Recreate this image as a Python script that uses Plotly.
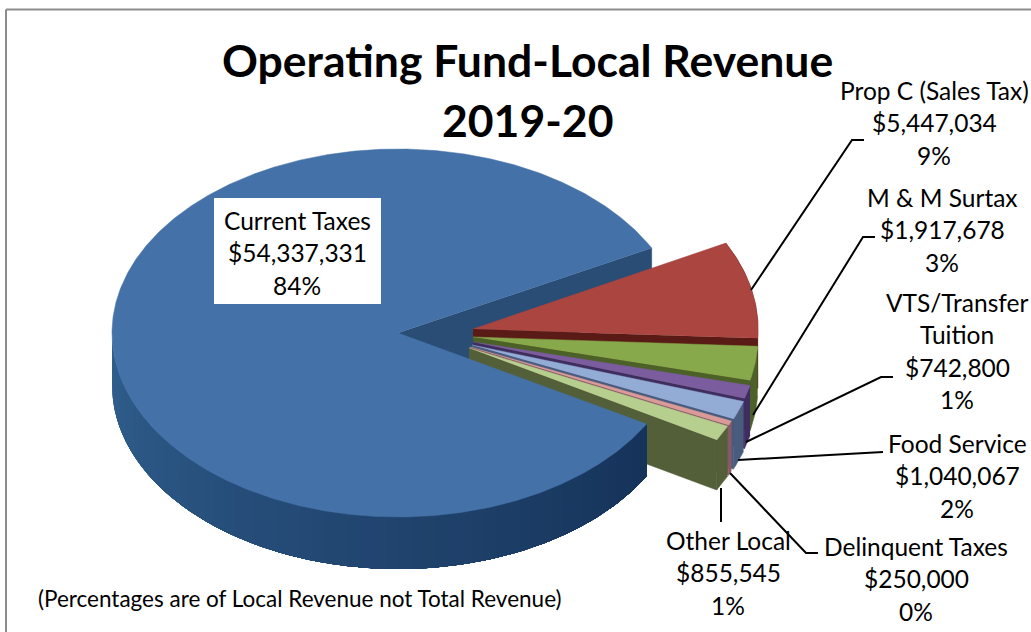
import numpy as np
import plotly.graph_objects as go

# Revenue by source, in dollars, in the order the slices run clockwise
categories = ["Current Taxes", "Prop C (Sales Tax)", "M & M Surtax", "VTS/Transfer Tuition",
              "Food Service", "Delinquent Taxes", "Other Local"]
revenue = [54337331, 5447034, 1917678, 742800, 1040067, 250000, 855545]
percent_labels = ["84%", "9%", "3%", "1%", "2%", "0%", "1%"]
name_lines = [["Current Taxes"], ["Prop C (Sales Tax)"], ["M & M Surtax"], ["VTS/Transfer", "Tuition"],
              ["Food Service"], ["Delinquent Taxes"], ["Other Local"]]

# Slice styling: top face colour and side wall colour
face_colors = ["#4472A8", "#AA4540", "#87A94B", "#7A5C9F", "#92ACD6", "#D99A98", "#B6CF8F"]
wall_colors = ["#2A4D76", "#5A1A15", "#4C6127", "#3E2D5E", "#4A5C7E", "#8B5A62", "#525F38"]

# Projected pie geometry in page pixels
RX, RY, DEPTH = 285, 186, 50
MAIN_RX, MAIN_RY, MAIN_DEPTH = 286, 184, 52
START_ANGLE = 27.5
apexes = [(398, 333), (473, 329), (473, 337), (473, 342), (472, 345), (470, 347), (469, 348)]

label_x = [297, 934, 942, 957, 957, 916, 728]
label_y = [220, 90, 197, 302, 443, 546, 540]
LINE_STEP = 32.5
FONT = "Lato, 'Open Sans', sans-serif"

leaders = [
    ([751, 852, 864], [290, 140, 140]),
    ([753, 863, 875], [415, 237, 237]),
    ([746, 881, 893], [442, 377, 377]),
    ([738, 883], [460, 452]),
    ([730, 806, 818], [473, 553, 553]),
    ([721, 721], [488, 522]),
]

sweeps = np.array(revenue, dtype=float) / sum(revenue) * 360


def rim(apex, t_from, t_to, step=1.0, rx=RX, ry=RY):
    n = max(int(abs(t_to - t_from) / step), 1) + 1
    t = np.radians(np.linspace(t_from, t_to, n))
    return apex[0] + rx * np.cos(t), apex[1] - ry * np.sin(t)


def blend(c1, c2, f):
    a = [int(c1[i:i + 2], 16) for i in (1, 3, 5)]
    b = [int(c2[i:i + 2], 16) for i in (1, 3, 5)]
    return "rgb(%d,%d,%d)" % tuple(round(p + (q - p) * f) for p, q in zip(a, b))


fig = go.Figure()


def polygon(x, y, color, width=0.5):
    fig.add_trace(go.Scatter(x=list(x), y=list(y), mode="lines", fill="toself", fillcolor=color,
                             line=dict(color=color, width=width), hoverinfo="skip", showlegend=False))


def wall(apex, t_from, t_to, color, width=0.5, rx=RX, ry=RY, depth=DEPTH):
    x, y = rim(apex, t_from, t_to, 1.0, rx, ry)
    polygon(np.r_[x, x[::-1]], np.r_[y, y[::-1] + depth], color, width)


def cut_wall(apex, t, color, rx=RX, ry=RY, depth=DEPTH):
    x, y = rim(apex, t, t, 1.0, rx, ry)
    x, y = x[0], y[0]
    polygon([apex[0], x, x, apex[0]], [apex[1], y, y + depth, apex[1] + depth], color)


# The large slice's far cut face sits behind the exploded slices
cut_wall(apexes[0], START_ANGLE, wall_colors[0], MAIN_RX, MAIN_RY, MAIN_DEPTH + 8)

# Exploded slices, far to near, each overlapping the one before
angle = START_ANGLE
for i in range(1, len(revenue)):
    end = angle - sweeps[i]
    wall(apexes[i], angle, end, wall_colors[i])
    cut_wall(apexes[i], end, wall_colors[i])
    x, y = rim(apexes[i], angle, end, 0.5)
    polygon(np.r_[apexes[i][0], x], np.r_[apexes[i][1], y], face_colors[i])
    angle = end

# The large slice: outer wall shaded in overlapping steps so no seams show, then its top face
main_end = angle
wall_stop = 360 + main_end
wall_stops = np.linspace(180.0, wall_stop, 61)
for k in range(len(wall_stops) - 1):
    f = k / (len(wall_stops) - 2)
    wall(apexes[0], wall_stops[k], wall_stop, blend("#31608F", "#16335A", f ** 0.9), 0,
         MAIN_RX, MAIN_RY, MAIN_DEPTH)
x, y = rim(apexes[0], main_end, main_end - sweeps[0], 0.5, MAIN_RX, MAIN_RY)
polygon(np.r_[apexes[0][0], x], np.r_[apexes[0][1], y], face_colors[0])

# Leader lines
for lx, ly in leaders:
    fig.add_trace(go.Scatter(x=lx, y=ly, mode="lines", line=dict(color="#000000", width=2),
                             hoverinfo="skip", showlegend=False))

annotations = []


def text(x, y, s, size=24.5, bold=False):
    annotations.append(dict(x=x, y=y, xref="x", yref="y", text=f"<b>{s}</b>" if bold else s,
                            showarrow=False, xanchor="center", yanchor="middle",
                            font=dict(family=FONT, size=size, color="#000000")))


for i in range(len(categories)):
    lines = name_lines[i] + [f"${revenue[i]:,}", percent_labels[i]]
    for n, s in enumerate(lines):
        text(label_x[i], label_y[i] + n * LINE_STEP, s)

text(527, 59, "Operating Fund-Local Revenue", size=44.5, bold=True)
text(527, 119, "2019-20", size=44.5, bold=True)
text(300, 598, "(Percentages are of Local Revenue not Total Revenue)", size=22.5)

shapes = [
    dict(type="rect", x0=214, x1=381, y0=198, y1=304, xref="x", yref="y",
         fillcolor="#FFFFFF", line=dict(width=0), layer="above"),
    dict(type="line", x0=6, x1=6, y0=9.5, y1=632, xref="x", yref="y", line=dict(color="#8C8C8C", width=2)),
    dict(type="line", x0=6, x1=1031, y0=9.5, y1=9.5, xref="x", yref="y", line=dict(color="#8C8C8C", width=2)),
]

fig.update_layout(
    width=1031, height=632, margin=dict(l=0, r=0, t=0, b=0),
    paper_bgcolor="#FFFFFF", plot_bgcolor="#FFFFFF", showlegend=False,
    xaxis=dict(range=[0, 1031], visible=False, fixedrange=True),
    yaxis=dict(range=[632, 0], visible=False, fixedrange=True),
    annotations=annotations, shapes=shapes,
)

fig.write_html("out.html", config={"displayModeBar": False})
